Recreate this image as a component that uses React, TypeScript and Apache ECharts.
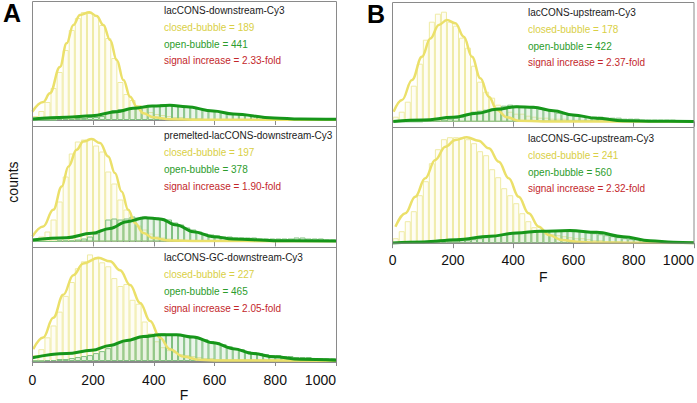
import React, { useEffect, useRef } from "react";
import * as echarts from "echarts";

// ---------- data ----------
const BIN_WIDTH = 20;
const BIN_LABELS: string[] = Array.from({ length: 50 }, (_, i) => `${i * BIN_WIDTH}-${(i + 1) * BIN_WIDTH}`);
const X_TICKS = [0, 200, 400, 600, 800, 1000];

const PANEL_TITLES = [
  "lacCONS-downstream-Cy3",
  "premelted-lacCONS-downstream-Cy3",
  "lacCONS-GC-downstream-Cy3",
  "lacCONS-upstream-Cy3",
  "lacCONS-GC-upstream-Cy3",
];
const CLOSED_BUBBLE = [189, 197, 227, 178, 241];
const OPEN_BUBBLE = [441, 378, 465, 422, 560];
const FOLD = ["2.33", "1.90", "2.05", "2.37", "2.32"];

// histogram counts (20-unit bins from 0 to 1000)
const A1_YELLOW_BINS = [4, 9, 18, 32, 48, 70, 90, 102, 108, 107, 104, 95, 82, 62, 38, 26, 20, 15, 12, 8, 6, 5, 4, 3, 3, 2, 2, 2, 1, 1, 1, 1, 1, 1, 1, 1, 1, 1, 1, 1, 0.5, 0.5, 0.5, 0.5, 0.5, 0.5, 0.5, 0.5, 0.5, 0.5];
const A1_GREEN_BINS = [0, 0, 0, 0, 1, 1, 1, 2, 2, 3, 3, 4, 8, 10, 11, 11, 12, 13, 14, 15, 15, 16, 15, 15, 14, 14, 13, 12, 11, 10, 9, 8, 7, 6, 5, 5, 4, 4, 3, 3, 2, 2, 2, 2, 2, 1, 1, 1, 1, 1];
const A2_YELLOW_BINS = [2, 5, 10, 22, 40, 65, 88, 100, 102, 103, 96, 90, 70, 58, 42, 32, 24, 16, 12, 8, 5, 4, 3, 2, 2, 1, 1, 1, 1, 1, 1, 1, 1, 1, 1, 0.5, 0.5, 0.5, 0.5, 0.5, 0.5, 0.5, 0.5, 0.5, 0.5, 0.5, 0.5, 0.5, 0.5, 0.5];
const A2_GREEN_BINS = [0, 0, 0, 0, 1, 1, 1, 2, 3, 5, 8, 12, 22, 23, 22, 23, 25, 24, 25, 24, 24, 23, 22, 19, 17, 14, 12, 10, 8, 7, 6, 5, 5, 4, 4, 4, 4, 3, 3, 3, 3, 3, 3, 4, 4, 3, 3, 3, 2, 2];
const A3_YELLOW_BINS = [6, 12, 24, 36, 50, 66, 80, 94, 101, 108, 104, 100, 96, 84, 76, 78, 62, 58, 40, 28, 20, 14, 11, 9, 7, 6, 5, 4, 3, 3, 2, 2, 2, 2, 2, 2, 2, 2, 2, 2, 2, 2, 2, 2, 2, 1, 1, 1, 1, 1];
const A3_GREEN_BINS = [0, 0, 1, 1, 2, 2, 3, 4, 5, 6, 8, 10, 13, 17, 19, 21, 22, 24, 26, 27, 28, 28, 27, 27, 26, 26, 25, 23, 22, 20, 19, 17, 15, 13, 12, 10, 9, 8, 7, 6, 6, 5, 5, 4, 4, 4, 3, 3, 3, 3];
const B1_YELLOW_BINS = [5, 10, 20, 36, 58, 82, 100, 108, 110, 100, 96, 84, 74, 56, 40, 30, 24, 17, 14, 10, 8, 8, 6, 5, 4, 4, 3, 3, 3, 2, 2, 2, 2, 2, 1, 1, 1, 1, 1, 1, 1, 1, 1, 1, 1, 1, 1, 1, 1, 1];
const B1_GREEN_BINS = [0, 0, 0, 0, 0, 1, 1, 1, 2, 3, 4, 5, 8, 10, 11, 12, 13, 14, 16, 17, 16, 15, 15, 14, 13, 12, 11, 9, 8, 7, 6, 6, 5, 5, 5, 4, 4, 4, 3, 3, 3, 2, 2, 2, 2, 2, 2, 1, 1, 1];
const B2_YELLOW_BINS = [5, 12, 22, 32, 48, 62, 80, 94, 104, 106, 106, 106, 104, 100, 92, 88, 74, 66, 55, 48, 40, 30, 22, 16, 13, 10, 9, 8, 7, 6, 5, 5, 4, 3, 3, 2, 2, 2, 1, 1, 1, 1, 1, 1, 1, 1, 1, 1, 1, 1];
const B2_GREEN_BINS = [0, 0, 0, 0, 0, 1, 1, 1, 1, 2, 2, 3, 3, 4, 5, 6, 7, 8, 9, 10, 10, 11, 11, 12, 12, 13, 13, 13, 13, 12, 12, 12, 11, 10, 9, 8, 7, 6, 5, 4, 4, 3, 3, 2, 2, 2, 1, 1, 1, 1];

// fitted curves as [F, counts]
const A1_YELLOW_FIT = [[0, 8.3], [36, 18], [58, 26.7], [91, 53], [113, 76.7], [135, 95], [157, 105], [188, 107.7], [212, 104], [234, 95], [256, 80], [278, 60], [300, 40], [322, 23.3], [344, 13.3], [366, 6.7], [398, 2.7], [453, 0.7], [550, 0.3], [1000, 0.3]];
const A1_GREEN_FIT = [[0, 1], [113, 2.7], [196, 4.3], [278, 8.3], [332, 11.7], [395, 14], [453, 14.7], [508, 13.3], [596, 9], [662, 6], [796, 2], [882, 1], [1000, 0.7]];
const A2_YELLOW_FIT = [[0, 5], [36, 15], [69, 31.7], [97, 55], [119, 75], [146, 91.7], [168, 100], [196, 102.4], [223, 98.4], [250, 85], [272, 68.4], [294, 50], [316, 31.7], [338, 18.4], [366, 8.4], [398, 3.4], [453, 1], [550, 0.4], [1000, 0.3]];
const A2_GREEN_FIT = [[0, 1.5], [113, 3.8], [196, 8.2], [256, 13], [311, 19.8], [371, 23.8], [421, 22.5], [475, 16.5], [530, 9.8], [596, 4.8], [662, 2.5], [796, 0.8], [1000, 0.5]];
const A3_YELLOW_FIT = [[3, 12], [36, 23.8], [69, 43.8], [102, 67], [135, 87], [168, 98.8], [217, 104.5], [256, 101], [289, 92], [322, 77], [355, 58.8], [388, 40.5], [420, 23.8], [453, 12], [497, 4.5], [552, 1.2], [620, 0.5], [1000, 0.3]];
const A3_GREEN_FIT = [[0, 3.2], [113, 7.5], [196, 10.8], [256, 15.8], [311, 20.8], [366, 24.8], [421, 26.5], [475, 26.5], [530, 24.2], [596, 18.5], [662, 12.5], [728, 7.5], [796, 4.2], [882, 1.8], [1000, 0.8]];
const B1_YELLOW_FIT = [[3, 10], [31, 21.7], [64, 41.7], [97, 65], [125, 83.3], [153, 96.7], [180, 101.7], [208, 98.4], [236, 85], [263, 65], [291, 43.4], [319, 25], [346, 11.7], [379, 4.4], [418, 1], [500, 0.3], [1000, 0.3]];
const B1_GREEN_FIT = [[2, 0.3], [102, 1.7], [201, 4.4], [279, 8.4], [345, 12.4], [411, 15], [467, 14.4], [533, 11], [599, 6.7], [677, 3.4], [765, 1], [875, 0.4], [1000, 0.3]];
const B2_YELLOW_FIT = [[9, 16.5], [42, 29.9], [75, 46.5], [108, 64.9], [141, 83.2], [175, 96.5], [208, 103.2], [246, 105.9], [285, 102.5], [319, 94.9], [352, 81.5], [385, 64.9], [418, 46.5], [451, 29.9], [485, 16.5], [518, 8.2], [562, 3.2], [611, 1.5], [677, 0.6], [1000, 0.3]];
const B2_GREEN_FIT = [[0, 0.3], [102, 1.2], [212, 3.5], [323, 7], [411, 10.2], [489, 12], [588, 12.6], [677, 10.9], [765, 6.5], [854, 2.5], [931, 0.9], [1000, 0.4]];

// ---------- styling / layout ----------
const FONT = "Liberation Sans, Arial, Helvetica, sans-serif";
const AXIS_COLOR = "#8a8a8a";
const Y_LINE = "#ebe06a";
const Y_BORDER = "#efeba4";
const Y_FILL = "rgba(250,247,205,0.22)";
const G_LINE = "#16961a";
const G_BORDER = "#80c080";
const G_FILL = "rgba(160,210,160,0.22)";
const T_YELLOW = "#d9cf46";
const T_GREEN = "#2c9c2c";
const T_RED = "#c3272b";

const PANELS = [
  { yb: A1_YELLOW_BINS, gb: A1_GREEN_BINS, yf: A1_YELLOW_FIT, gf: A1_GREEN_FIT, left: 32.3, width: 303.7, top: 1.5, height: 118.5, labels: false, margin: 10, tx: 164, ty: [10.5, 27.2, 44, 60.8] },
  { yb: A2_YELLOW_BINS, gb: A2_GREEN_BINS, yf: A2_YELLOW_FIT, gf: A2_GREEN_FIT, left: 32.3, width: 303.7, top: 126.5, height: 115, labels: false, margin: 10, tx: 164, ty: [135.5, 152.3, 169, 186] },
  { yb: A3_YELLOW_BINS, gb: A3_GREEN_BINS, yf: A3_YELLOW_FIT, gf: A3_GREEN_FIT, left: 32.3, width: 303.7, top: 247.5, height: 115, labels: true, margin: 12, tx: 164, ty: [257, 274, 291, 308] },
  { yb: B1_YELLOW_BINS, gb: B1_GREEN_BINS, yf: B1_YELLOW_FIT, gf: B1_GREEN_FIT, left: 392.7, width: 301.3, top: 2.5, height: 119.2, labels: false, margin: 10, tx: 528, ty: [12.7, 29.3, 46, 62.7] },
  { yb: B2_YELLOW_BINS, gb: B2_GREEN_BINS, yf: B2_YELLOW_FIT, gf: B2_GREEN_FIT, left: 392.7, width: 301.3, top: 127.5, height: 115.7, labels: true, margin: 10, tx: 528, ty: [138.5, 155.3, 172, 188.7] },
];

function buildOption() {
  const grid: any[] = [];
  const xAxis: any[] = [];
  const yAxis: any[] = [];
  const series: any[] = [];
  const graphic: any[] = [];

  PANELS.forEach((p, i) => {
    grid.push({ left: p.left, top: p.top, width: p.width, height: p.height, show: false });
    xAxis.push({ type: "category", gridIndex: i, data: BIN_LABELS, show: false, boundaryGap: true, position: "bottom" });
    xAxis.push({
      type: "value",
      gridIndex: i,
      position: "bottom",
      min: X_TICKS[0],
      max: X_TICKS[X_TICKS.length - 1],
      interval: X_TICKS[1] - X_TICKS[0],
      axisLine: { show: true, lineStyle: { color: AXIS_COLOR, width: 1 } },
      axisTick: { show: true, length: 5, lineStyle: { color: AXIS_COLOR, width: 1 } },
      axisLabel: {
        show: p.labels, fontSize: 14, color: "#111", fontFamily: FONT, margin: p.margin,
        alignMaxLabel: "right", formatter: (v: number) => String(v),
      },
      splitLine: { show: false },
      name: p.labels ? "F" : "",
      nameLocation: "middle",
      nameGap: 27,
      nameTextStyle: { fontSize: 14, color: "#111", fontFamily: FONT },
    });
    yAxis.push({ type: "value", gridIndex: i, min: 0, max: p.height, show: false });

    series.push({
      type: "bar", xAxisIndex: 2 * i, yAxisIndex: i, data: p.yb,
      barGap: "-100%", barCategoryGap: "0%", silent: true, z: 2,
      itemStyle: { color: Y_FILL, borderColor: Y_BORDER, borderWidth: 1 },
    });
    series.push({
      type: "bar", xAxisIndex: 2 * i, yAxisIndex: i, data: p.gb,
      barGap: "-100%", barCategoryGap: "0%", silent: true, z: 3,
      itemStyle: { color: G_FILL, borderColor: G_BORDER, borderWidth: 1 },
    });
    series.push({
      type: "line", xAxisIndex: 2 * i + 1, yAxisIndex: i, data: p.yf,
      smooth: 0.4, smoothMonotone: "x", showSymbol: false, symbol: "none", silent: true, z: 4,
      lineStyle: { color: Y_LINE, width: 2.5 },
    });
    series.push({
      type: "line", xAxisIndex: 2 * i + 1, yAxisIndex: i, data: p.gf,
      smooth: 0.4, smoothMonotone: "x", showSymbol: false, symbol: "none", silent: true, z: 5,
      lineStyle: { color: G_LINE, width: 3 },
    });

    const lines = [
      { t: PANEL_TITLES[i], c: "#1a1a1a" },
      { t: `closed-bubble = ${CLOSED_BUBBLE[i]}`, c: T_YELLOW },
      { t: `open-bubble = ${OPEN_BUBBLE[i]}`, c: T_GREEN },
      { t: `signal increase = ${FOLD[i]}-fold`, c: T_RED },
    ];
    lines.forEach((l, k) => {
      graphic.push({
        type: "text", x: p.tx, y: p.ty[k], z: 10,
        style: { text: l.t, fill: l.c, fontSize: 10, fontFamily: FONT, align: "left", verticalAlign: "middle" },
      });
    });
  });

  // frames
  graphic.push({ type: "rect", z: 9, shape: { x: 32.5, y: 1.5, width: 304, height: 361 }, style: { fill: "none", stroke: AXIS_COLOR, lineWidth: 1 } });
  graphic.push({ type: "line", z: 9, shape: { x1: 32.5, y1: 126.5, x2: 336.5, y2: 126.5 }, style: { stroke: AXIS_COLOR, lineWidth: 1 } });
  graphic.push({ type: "line", z: 9, shape: { x1: 32.5, y1: 247.5, x2: 336.5, y2: 247.5 }, style: { stroke: AXIS_COLOR, lineWidth: 1 } });
  graphic.push({ type: "rect", z: 9, shape: { x: 392.5, y: 2.5, width: 301.5, height: 240.7 }, style: { fill: "none", stroke: AXIS_COLOR, lineWidth: 1 } });
  graphic.push({ type: "line", z: 9, shape: { x1: 392.5, y1: 127.5, x2: 694, y2: 127.5 }, style: { stroke: AXIS_COLOR, lineWidth: 1 } });

  // panel letters and y label
  graphic.push({ type: "text", x: 12, y: 13, z: 10, style: { text: "A", fill: "#000", fontSize: 25, fontWeight: "bold", fontFamily: FONT, align: "center", verticalAlign: "middle" } });
  graphic.push({ type: "text", x: 376, y: 14, z: 10, style: { text: "B", fill: "#000", fontSize: 25, fontWeight: "bold", fontFamily: FONT, align: "center", verticalAlign: "middle" } });
  graphic.push({ type: "text", x: 13, y: 182, rotation: Math.PI / 2, z: 10, style: { text: "counts", fill: "#111", fontSize: 14, fontFamily: FONT, align: "center", verticalAlign: "middle" } });

  return {
    animation: false,
    backgroundColor: "#ffffff",
    textStyle: { fontFamily: FONT },
    grid, xAxis, yAxis, series, graphic,
  };
}

export default function App() {
  const ref = useRef<HTMLDivElement>(null);
  useEffect(() => {
    if (!ref.current) return;
    const chart = echarts.init(ref.current, undefined, { renderer: "svg" });
    chart.setOption(buildOption() as any);
    return () => chart.dispose();
  }, []);
  return <div ref={ref} style={{ position: "absolute", left: 0, top: 0, width: 697, height: 403, background: "#fff" }} />;
}
